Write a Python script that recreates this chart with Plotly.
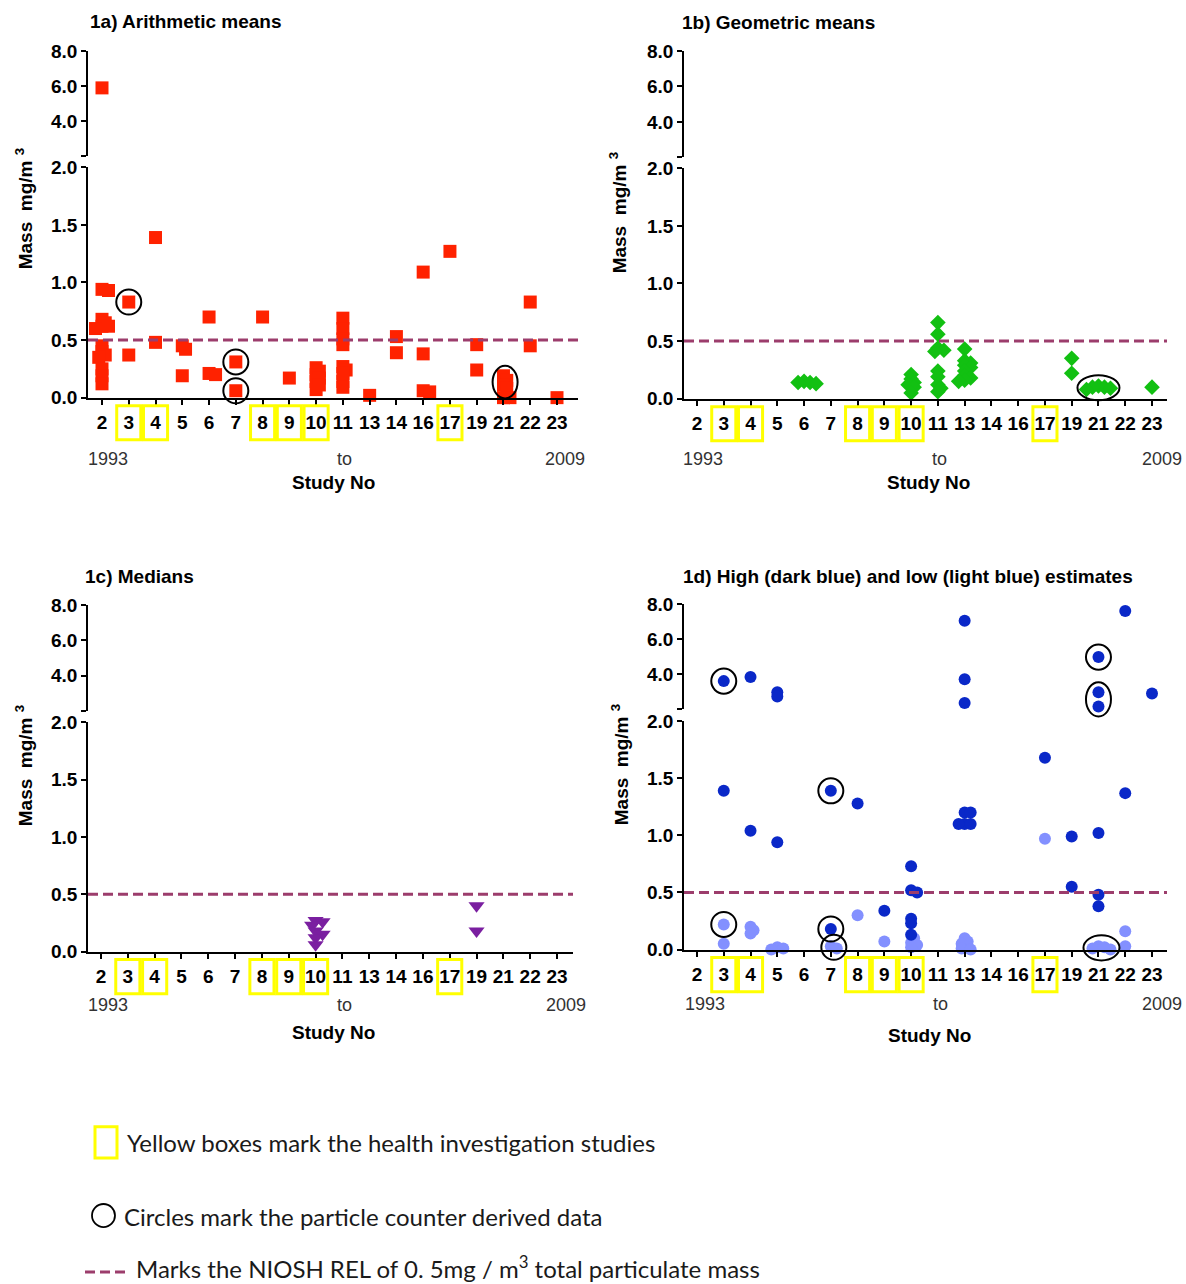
import plotly.graph_objects as go

W, H = 1186, 1284

# ---------------- data ----------------
STUDIES = ["2", "3", "4", "5", "6", "7", "8", "9", "10", "11", "13", "14",
           "16", "17", "19", "21", "22", "23"]
HEALTH_STUDIES = ["3", "4", "8", "9", "10", "17"]
NIOSH_REL = 0.5
YEAR_LABELS = ["1993", "to", "2009"]
TITLES = ["1a) Arithmetic means", "1b) Geometric means", "1c) Medians",
          "1d) High (dark blue) and low (light blue) estimates"]
UPPER_TICKS = [4, 6, 8]
UPPER_TICKTEXT = ["4.0", "6.0", "8.0"]
LOWER_TICKS = [0, 0.5, 1.0, 1.5, 2.0]
LOWER_TICKTEXT = ["0.0", "0.5", "1.0", "1.5", "2.0"]
BREAK_LOW, BREAK_HIGH = 2.0, 8.0

# 1a arithmetic means
am_study = ["2"] * 15 + ["3", "3", "4", "4", "5", "5", "5", "6", "6", "6", "7", "7", "8", "9"] \
    + ["10"] * 7 + ["11"] * 9 \
    + ["13", "14", "14", "16", "16", "16", "16", "17", "19", "19"] \
    + ["21"] * 6 + ["22", "22", "23"]
am_value = [5.9, 0.94, 0.93, 0.68, 0.65, 0.62, 0.62, 0.60, 0.45, 0.40, 0.37, 0.35, 0.25, 0.19, 0.12,
            0.83, 0.37, 1.39, 0.48, 0.45, 0.42, 0.19, 0.70, 0.21, 0.20, 0.31, 0.06, 0.70, 0.17,
            0.26, 0.23, 0.20, 0.17, 0.14, 0.11, 0.07,
            0.69, 0.60, 0.51, 0.46, 0.27, 0.24, 0.21, 0.14, 0.09,
            0.02, 0.53, 0.39, 1.09, 0.38, 0.06, 0.05, 1.27, 0.46, 0.24,
            0.19, 0.15, 0.11, 0.08, 0.0, 0.0, 0.83, 0.45, 0.0]
am_counter = [("am", "3", [0.83]), ("am", "7", [0.31]), ("am", "7", [0.06]),
              ("am", "21", [0.19, 0.15, 0.11, 0.08])]

# 1b geometric means
gm_study = ["6"] * 4 + ["10"] * 6 + ["11"] * 10 + ["13"] * 10 + ["19", "19"] + ["21"] * 5 + ["23"]
gm_value = [0.15, 0.14, 0.14, 0.13,
            0.21, 0.17, 0.14, 0.12, 0.10, 0.05,
            0.66, 0.56, 0.44, 0.42, 0.41, 0.24, 0.19, 0.12, 0.09, 0.06,
            0.43, 0.33, 0.31, 0.29, 0.27, 0.24, 0.20, 0.18, 0.16, 0.15,
            0.35, 0.22,
            0.11, 0.10, 0.10, 0.09, 0.08,
            0.10]
gm_counter = [("gm", "21", [0.11, 0.10, 0.10, 0.09, 0.08])]

# 1c medians
md_study = ["10"] * 7 + ["19", "19"]
md_value = [0.27, 0.26, 0.23, 0.18, 0.15, 0.12, 0.06, 0.40, 0.18]
md_counter = []

# 1d high estimates
hi_study = ["3", "3", "4", "4", "5", "5", "5", "7", "7", "8", "9"] + ["10"] * 6 + ["13"] * 8 \
    + ["17", "19", "19"] + ["21"] * 6 + ["22", "22", "23"]
hi_value = [3.6, 1.39, 3.83, 1.04, 2.97, 2.72, 0.94, 1.39, 0.18, 1.28, 0.34,
            0.73, 0.52, 0.50, 0.27, 0.23, 0.13,
            7.05, 3.71, 2.35, 1.20, 1.20, 1.10, 1.10, 1.10,
            1.68, 0.99, 0.55,
            4.97, 2.97, 2.15, 1.02, 0.48, 0.38,
            7.6, 1.37, 2.9]
# 1d low estimates
lo_study = ["3", "3", "4", "4", "4", "5", "5", "5", "7", "7", "8", "9"] + ["10"] * 4 + ["13"] * 6 \
    + ["17"] + ["21"] * 4 + ["22", "22"]
lo_value = [0.22, 0.05, 0.20, 0.17, 0.14, 0.02, 0.01, 0.0, 0.03, 0.01, 0.30, 0.07,
            0.10, 0.06, 0.04, 0.02,
            0.10, 0.07, 0.05, 0.03, 0.01, 0.0,
            0.97,
            0.03, 0.02, 0.01, 0.0,
            0.16, 0.03]
est_counter = [("hi", "3", [3.6]), ("lo", "3", [0.22]), ("hi", "7", [1.39]), ("hi", "7", [0.18]),
               ("lo", "7", [0.03, 0.01]), ("hi", "21", [4.97]), ("hi", "21", [2.97, 2.15]),
               ("lo", "21", [0.03, 0.02, 0.01, 0.0])]

# ---------------- styles ----------------
AX_FONT = "Liberation Sans, Arial, sans-serif"
LEG_FONT = "Lato, Carlito, sans-serif"
REL_COLOR = "#9C3D6C"
SERIES = {
    "am": dict(study=am_study, value=am_value, symbol="square", color="#FF2200", size=13),
    "gm": dict(study=gm_study, value=gm_value, symbol="diamond", color="#12C012", size=12),
    "md": dict(study=md_study, value=md_value, symbol="triangle-down", color="#7A1FA0", size=14),
    "hi": dict(study=hi_study, value=hi_value, symbol="circle", color="#0A28C8", size=12),
    "lo": dict(study=lo_study, value=lo_value, symbol="circle", color="#8390FF", size=12),
}
PANELS = [
    dict(series=["am"], groups=am_counter, x0=88, x1=578, first=102, last=557, up=(52, 157), lo=(168, 398),
         title=(88, 22), ylab=(24, 210), years=(108, 344, 565), years_y=459, study=(333, 483)),
    dict(series=["gm"], groups=gm_counter, x0=684, x1=1167, first=697, last=1152, up=(52, 158), lo=(169, 399),
         title=(680, 23), ylab=(618, 214), years=(703, 939, 1162), years_y=459, study=(928, 483)),
    dict(series=["md"], groups=md_counter, x0=88, x1=573, first=101, last=557, up=(605, 711), lo=(722, 951),
         title=(83, 577), ylab=(24, 766), years=(108, 344, 566), years_y=1004, study=(333, 1032)),
    dict(series=["lo", "hi"], groups=est_counter, x0=684, x1=1167, first=697, last=1152, up=(604, 709), lo=(721, 949),
         title=(681, 577), ylab=(620, 765), years=(705, 940, 1162), years_y=1003, study=(929, 1035)),
]

# page calibration of vertical placement (measured offset / scale of the photographed page)
CAL_A, CAL_B = 11.0, 0.982


def fx(p):
    return p / W


def fy(p):
    return 1 - ((p - CAL_A) / CAL_B) / H


layout = dict(width=W, height=H, autosize=False, margin=dict(l=0, r=0, t=0, b=0),
              paper_bgcolor="white", plot_bgcolor="white", showlegend=False)
shapes, annotations, traces = [], [], []

for i, P in enumerate(PANELS):
    xn, yu, yl = i + 1, 2 * i + 1, 2 * i + 2
    xname = "x" if xn == 1 else f"x{xn}"
    yuname = "y" if yu == 1 else f"y{yu}"
    ylname = f"y{yl}"
    sp = (P["last"] - P["first"]) / (len(STUDIES) - 1)
    xr = [(P["x0"] - P["first"]) / sp, (P["x1"] - P["first"]) / sp]
    up_t, up_b = P["up"]
    lo_t, lo_b = P["lo"]
    lo_scale = (lo_b - lo_t) / (BREAK_LOW - 0)
    up_scale = (up_b - up_t) / (BREAK_HIGH - BREAK_LOW)

    def ypx(v):
        return lo_b - v * lo_scale if v <= BREAK_LOW else up_b - (v - BREAK_LOW) * up_scale

    axis_common = dict(showline=True, linecolor="black", linewidth=1.5, ticks="outside",
                       tickcolor="black", tickwidth=1.5, showgrid=False, zeroline=False,
                       tickfont=dict(family=AX_FONT, size=19, color="black", weight="bold"))
    layout["xaxis" if xn == 1 else f"xaxis{xn}"] = dict(
        axis_common, domain=[fx(P["x0"]), fx(P["x1"])], range=xr, anchor=ylname,
        tickvals=list(range(len(STUDIES))), ticktext=STUDIES, ticklen=6, ticklabelstandoff=1)
    layout["yaxis" if yu == 1 else f"yaxis{yu}"] = dict(
        axis_common, domain=[fy(up_b), fy(up_t)], range=[BREAK_LOW, BREAK_HIGH], anchor=xname,
        tickvals=UPPER_TICKS, ticktext=UPPER_TICKTEXT, ticklen=5,
        minor=dict(tickvals=[BREAK_LOW], ticks="outside", ticklen=5, tickwidth=1.5, tickcolor="black"))
    layout[f"yaxis{yl}"] = dict(
        axis_common, domain=[fy(lo_b), fy(lo_t)], range=[0, BREAK_LOW], anchor=xname,
        tickvals=LOWER_TICKS, ticktext=LOWER_TICKTEXT, ticklen=5)

    # empty traces so that both segments of every panel are drawn
    for yname in (yuname, ylname):
        traces.append(go.Scatter(x=[], y=[], xaxis=xname, yaxis=yname, mode="markers", hoverinfo="skip"))

    # collect points of the panel and spread overlapping ones (simple beeswarm)
    pts = []
    for key in P["series"]:
        S = SERIES[key]
        for s, v in zip(S["study"], S["value"]):
            pts.append([key, s, v, 0.0])
    size = max(SERIES[k]["size"] for k in P["series"])
    min_d, step = 0.36 * size, 0.25 * size
    placed = {}
    for k in sorted(range(len(pts)), key=lambda k: -pts[k][2]):
        key, s, v, _ = pts[k]
        y = ypx(v)
        lst = placed.setdefault(s, [])
        cand = 0.0
        for j in range(60):
            cand = 0.0 if j == 0 else ((j + 1) // 2) * step * (1 if j % 2 else -1)
            if all((cand - dx) ** 2 + (y - yy) ** 2 >= min_d ** 2 for dx, yy in lst):
                break
        lst.append((cand, y))
        pts[k][3] = cand

    # dashed REL line
    shapes.append(dict(type="line", xref=xname, yref=ylname, x0=xr[0], x1=xr[1], y0=NIOSH_REL, y1=NIOSH_REL,
                       line=dict(color=REL_COLOR, width=3, dash="10px,5px"), layer="above"))

    for key in P["series"]:
        S = SERIES[key]
        for seg, yname in (("up", yuname), ("lo", ylname)):
            xs, ys = [], []
            for pk, s, v, off in pts:
                if pk != key:
                    continue
                if (v > BREAK_LOW) != (seg == "up"):
                    continue
                xs.append(STUDIES.index(s) + off / sp)
                ys.append(v)
            if xs:
                traces.append(go.Scatter(x=xs, y=ys, mode="markers", xaxis=xname, yaxis=yname,
                                         cliponaxis=False, hoverinfo="skip",
                                         marker=dict(symbol=S["symbol"], size=S["size"], color=S["color"],
                                                     line=dict(width=0))))

    # ellipses around particle-counter derived data (paper coords, so they are not clipped)
    for key, s, vals in P["groups"]:
        remaining = list(vals)
        gx, gy = [], []
        for pk, ps, v, off in pts:
            if pk == key and ps == s and any(abs(v - r) < 1e-9 for r in remaining):
                remaining.remove(next(r for r in remaining if abs(v - r) < 1e-9))
                gx.append(P["first"] + STUDIES.index(s) * sp + off)
                gy.append(ypx(v))
        if not gx:
            continue
        cx, cy = (min(gx) + max(gx)) / 2, (min(gy) + max(gy)) / 2
        hw = max(12.5, (max(gx) - min(gx)) / 2 + 9)
        hh = max(12.5, (max(gy) - min(gy)) / 2 + 10)
        shapes.append(dict(type="circle", xref="paper", yref="paper",
                           x0=fx(cx - hw), x1=fx(cx + hw), y0=fy(cy + hh), y1=fy(cy - hh),
                           line=dict(color="black", width=2), layer="above"))

    # yellow boxes on health-investigation studies
    for s in HEALTH_STUDIES:
        idx = STUDIES.index(s)
        shapes.append(dict(type="rect", xref=xname, yref="paper", x0=idx - 0.45, x1=idx + 0.45,
                           y0=fy(lo_b + 42), y1=fy(lo_b + 8),
                           line=dict(color="#FFFF00", width=3), fillcolor="rgba(0,0,0,0)"))

    # texts
    annotations.append(dict(text=TITLES[i], x=fx(P["title"][0]), y=fy(P["title"][1]), xref="paper", yref="paper",
                            xanchor="left", yanchor="middle", showarrow=False,
                            font=dict(family=AX_FONT, size=19, color="black", weight="bold")))
    annotations.append(dict(text="Mass&nbsp; mg/m&nbsp;<sup>3</sup>", x=fx(P["ylab"][0]),
                            y=fy(P["ylab"][1]), xref="paper", yref="paper", textangle=-90, showarrow=False,
                            xanchor="center", yanchor="middle",
                            font=dict(family=AX_FONT, size=19, color="black", weight="bold")))
    for lab, xp in zip(YEAR_LABELS, P["years"]):
        annotations.append(dict(text=lab, x=fx(xp), y=fy(P["years_y"]), xref="paper", yref="paper",
                                showarrow=False, xanchor="center", yanchor="middle",
                                font=dict(family=AX_FONT, size=18, color="#333333")))
    annotations.append(dict(text="Study No", x=fx(P["study"][0]), y=fy(P["study"][1]), xref="paper", yref="paper",
                            showarrow=False, xanchor="center", yanchor="middle",
                            font=dict(family=AX_FONT, size=19, color="black", weight="bold")))

# ---------------- key at the bottom ----------------
shapes.append(dict(type="rect", xref="paper", yref="paper", x0=fx(95), x1=fx(117), y0=fy(1157), y1=fy(1126),
                   line=dict(color="#FFFF00", width=3), fillcolor="white"))
shapes.append(dict(type="circle", xref="paper", yref="paper", x0=fx(92), x1=fx(115), y0=fy(1226), y1=fy(1203),
                   line=dict(color="black", width=1.8)))
shapes.append(dict(type="line", xref="paper", yref="paper", x0=fx(85), x1=fx(128), y0=fy(1271), y1=fy(1271),
                   line=dict(color=REL_COLOR, width=3, dash="10px,5px")))
KEY_TEXTS = [("Yellow boxes mark the health investigation studies", 125, 1142),
             ("Circles mark the particle counter derived data", 122, 1215),
             ("Marks the NIOSH REL of 0. 5mg / m<sup>3</sup> total particulate mass", 134, 1266)]
for t, xp, yp in KEY_TEXTS:
    annotations.append(dict(text=t, x=fx(xp), y=fy(yp), xref="paper", yref="paper", showarrow=False,
                            xanchor="left", yanchor="middle",
                            font=dict(family=LEG_FONT, size=24, color="#1a1a1a")))

layout["shapes"] = shapes
layout["annotations"] = annotations
fig = go.Figure(data=traces, layout=layout)
fig.write_html("out.html", config={"displayModeBar": False},
               post_script="document.body.style.margin='0';document.body.style.overflow='hidden';")
